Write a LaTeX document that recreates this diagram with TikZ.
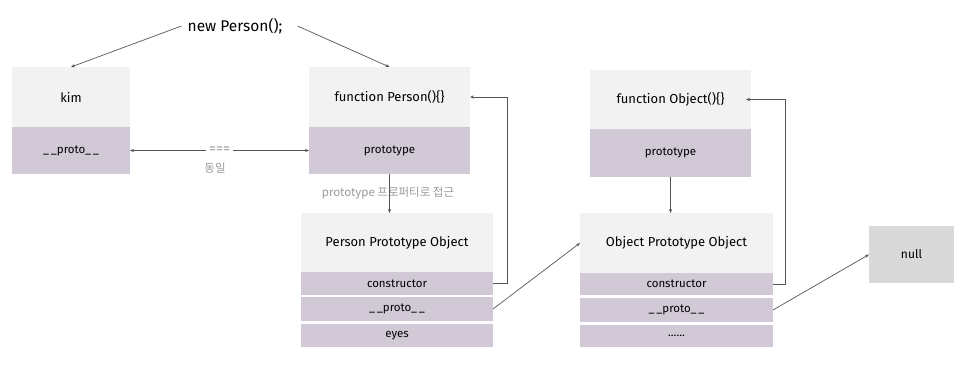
\documentclass[tikz,border=0pt]{standalone}
\usepackage{fontspec}
\setmainfont{Fira Sans}
\newfontfamily\krfont{Noto Sans CJK KR}
\usetikzlibrary{arrows.meta}
\definecolor{lightbox}{HTML}{F2F2F2}
\definecolor{lavbox}{HTML}{D1C9D6}
\definecolor{nullbox}{HTML}{D9D9D9}
\definecolor{linegray}{HTML}{555555}
\definecolor{notegray}{HTML}{9A9A9A}
\begin{document}
\begin{tikzpicture}[x=1pt,y=-1pt,
  base/.style={inner sep=0pt, outer sep=0pt, anchor=north west, text=black},
  headbox/.style={base, fill=lightbox, font=\fontsize{13}{15}\selectfont},
  slotbox/.style={base, fill=lavbox, font=\fontsize{11.5}{13}\selectfont},
  nullnode/.style={base, fill=nullbox, font=\fontsize{12}{14}\selectfont},
  conn/.style={draw=linegray, line width=0.7pt, -{Stealth[length=4pt,width=3.2pt]}},
  note/.style={text=notegray, font=\krfont\fontsize{11.5}{13}\selectfont, inner sep=1pt}
]
\useasboundingbox (0,0) rectangle (966,369);
\fill[white] (0,0) rectangle (966,369);

% title
\node[font=\fontsize{15.5}{18}\selectfont, inner sep=1pt] (np) at (235,26) {new Person();};

% kim
\node[headbox, minimum width=118, minimum height=60] (kim) at (12,67) {kim};
\node[slotbox, minimum width=118, minimum height=47] (kimp) at (12,127) {\_\,\_proto\_\,\_};

% function Person
\node[headbox, minimum width=161, minimum height=60] (pf) at (309,67) {function Person()\{\}};
\node[slotbox, minimum width=161, minimum height=47] (pfp) at (309,127) {prototype};

% function Object
\node[headbox, minimum width=161, minimum height=59] (of) at (590,70) {function Object()\{\}};
\node[slotbox, minimum width=161, minimum height=48] (ofp) at (590,129) {prototype};

% Person Prototype Object
\node[headbox, minimum width=192, minimum height=59] (pp) at (301,213) {Person Prototype Object};
\node[slotbox, minimum width=192, minimum height=23] (ppc) at (301,272) {constructor};
\node[slotbox, minimum width=192, minimum height=24] (ppp) at (301,297) {\_\,\_proto\_\,\_};
\node[slotbox, minimum width=192, minimum height=23] (ppe) at (301,324) {eyes};

% Object Prototype Object
\node[headbox, minimum width=193, minimum height=60] (op) at (580,213) {Object Prototype Object};
\node[slotbox, minimum width=193, minimum height=22] (opc) at (580,273) {constructor};
\node[slotbox, minimum width=193, minimum height=24] (opp) at (580,298) {\_\,\_proto\_\,\_};
\node[slotbox, minimum width=193, minimum height=22] (ope) at (580,325) {......};

% null
\node[nullnode, minimum width=85, minimum height=57] (nul) at (869,226) {null};

% connectors
\draw[conn] ([xshift=-5]np.west) -- (kim.north);
\draw[conn] ([xshift=14]np.east) -- (pf.north);

\draw[conn, {Stealth[length=4pt,width=3.2pt]}-{Stealth[length=4pt,width=3.2pt]}] (kimp.east) -- (pfp.west)
  node[midway, fill=white, text=notegray, inner sep=3pt, font=\fontsize{14}{16}\selectfont] (eq) {===};
\node[note] (same) at (215,168) {동일};

\draw[conn] (pfp.south) -- (pfp.south |- pp.north);
\node[note] (acc) at (388,193) {prototype 프로퍼티로 접근};
\draw[draw=linegray, line width=0.7pt] (acc.north -| pfp.south) -- (acc.south -| pfp.south);

\draw[conn] (ofp.south) -- (ofp.south |- op.north);

\draw[conn] (ppc.east) -- ++(14,0) |- (pf.east);
\draw[conn] (opc.east) -- ++(12,0) |- ([xshift=-5]of.east);

\draw[conn] (ppp.east) -- (op.west);
\draw[conn] (opp.east) -- (nul.west);
\end{tikzpicture}
\end{document}
